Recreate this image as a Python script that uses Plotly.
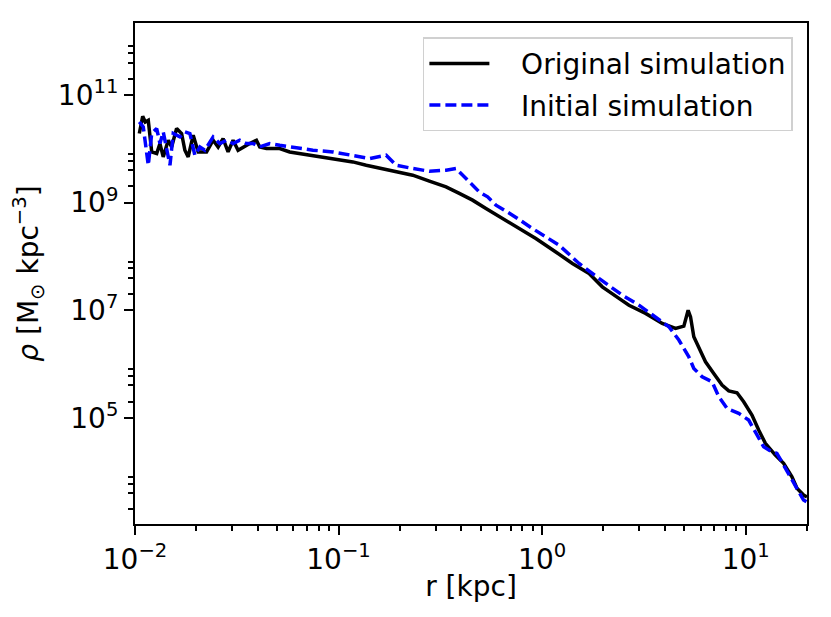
import plotly.graph_objects as go

# radius [kpc] and density [Msun kpc^-3]
r_orig = [0.01050, 0.01091, 0.01123, 0.01162, 0.01208, 0.01278, 0.01326, 0.01376, 0.01456, 0.01513,
          0.01601, 0.01694, 0.01758, 0.01825, 0.01932, 0.02044, 0.02246, 0.02420, 0.02560, 0.02708,
          0.02866, 0.03033, 0.03209, 0.03395, 0.03662, 0.03950, 0.04100, 0.04423, 0.05139, 0.05752,
          0.06437, 0.07482, 0.08375, 0.09375, 0.1175, 0.1367, 0.1649, 0.1991, 0.2313, 0.2793,
          0.3373, 0.3917, 0.4550, 0.5296, 0.6383, 0.7704, 0.9311, 1.167, 1.408, 1.700,
          1.975, 2.384, 2.670, 3.223, 3.890, 4.522, 4.966, 5.214, 5.357, 5.559,
          5.998, 6.346, 6.966, 7.651, 8.254, 9.060, 9.772, 10.73, 11.58, 12.49,
          13.98, 15.35, 16.87, 17.85, 19.23, 20.0]
rho_orig = [1.92e10, 4.02e10, 3.15e10, 3.39e10, 8.74e9, 8.16e9, 1.25e10, 7.06e9, 1.44e10, 1.08e10,
            2.38e10, 1.92e10, 9.40e9, 7.06e9, 1.79e10, 8.74e9, 8.74e9, 1.44e10, 1.08e10, 1.55e10,
            8.74e9, 1.44e10, 9.40e9, 1.08e10, 1.25e10, 1.44e10, 1.08e10, 1.01e10, 1.01e10, 8.74e9,
            8.16e9, 7.59e9, 7.06e9, 6.59e9, 5.70e9, 4.95e9, 4.30e9, 3.72e9, 3.23e9, 2.50e9,
            1.96e9, 1.48e9, 1.11e9, 7.77e8, 5.07e8, 3.39e8, 2.15e8, 1.21e8, 7.40e7, 4.82e7,
            2.72e7, 1.66e7, 1.24e7, 8.73e6, 5.69e6, 4.59e6, 5.07e6, 1.00e7, 7.54e6, 3.21e6,
            1.69e6, 1.10e6, 6.70e5, 4.06e5, 3.18e5, 2.92e5, 1.99e5, 1.13e5, 5.94e4, 3.36e4,
            2.04e4, 1.43e4, 8.05e3, 4.91e3, 3.68e3, 3.38e3]

r_init = [0.01050, 0.01098, 0.01162, 0.01208, 0.01278, 0.01326, 0.01376, 0.01430, 0.01485, 0.01541,
          0.01662, 0.01758, 0.01861, 0.01968, 0.02083, 0.02203, 0.02420, 0.02610, 0.02814, 0.03033,
          0.03271, 0.03528, 0.03802, 0.04100, 0.04589, 0.05139, 0.05752, 0.06437, 0.07482, 0.09375,
          0.1175, 0.1419, 0.1713, 0.1919, 0.2313, 0.2793, 0.3373, 0.3776, 0.4227, 0.4909,
          0.5397, 0.5930, 0.7152, 0.8964, 1.211, 1.518, 1.901, 2.475, 2.989, 3.607,
          4.194, 4.695, 5.255, 5.559, 6.109, 6.839, 7.373, 8.094, 9.240, 10.34,
          11.16, 12.25, 13.46, 14.23, 15.35, 16.56, 17.85, 19.23, 20.0]
rho_init = [3.15e10, 2.55e10, 4.95e9, 1.92e10, 2.38e10, 1.25e10, 2.06e10, 1.08e10, 4.95e9, 1.92e10,
            1.66e10, 2.06e10, 1.92e10, 7.59e9, 1.08e10, 9.40e9, 1.66e10, 1.25e10, 1.44e10, 1.25e10,
            1.44e10, 1.25e10, 1.25e10, 1.08e10, 1.25e10, 1.16e10, 1.08e10, 1.01e10, 9.40e9, 8.74e9,
            7.59e9, 6.59e9, 7.59e9, 4.95e9, 4.30e9, 3.83e9, 4.00e9, 4.30e9, 2.80e9, 1.58e9,
            1.28e9, 8.95e8, 5.84e8, 3.30e8, 1.62e8, 7.40e7, 3.90e7, 1.91e7, 1.24e7, 7.54e6,
            4.92e6, 2.79e6, 1.36e6, 8.30e5, 5.80e5, 4.68e5, 2.47e5, 1.50e5, 1.21e5, 9.10e4,
            5.52e4, 2.90e4, 2.34e4, 2.19e4, 1.33e4, 8.05e3, 4.56e3, 2.97e3, 2.73e3]

x_ticks = [0.01, 0.1, 1, 10]
x_ticktext = ['10<sup>−2</sup>', '10<sup>−1</sup>', '10<sup>0</sup>', '10<sup>1</sup>']
y_ticks = [1e5, 1e7, 1e9, 1e11]
y_ticktext = ['10<sup>5</sup>', '10<sup>7</sup>', '10<sup>9</sup>', '10<sup>11</sup>']

x_minor = [m * 10.0 ** k for k in (-2, -1, 0) for m in range(2, 10)] + [20.0]
y_minor = [m * 10.0 ** k for k in (3, 5, 7, 9, 11) for m in (2, 4, 6, 8)]

FONT = 'DejaVu Sans'
FS = 28
NB = '\u00a0'

fig = go.Figure()
fig.add_trace(go.Scatter(x=r_orig, y=rho_orig, mode='lines', name=NB * 3 + 'Original simulation',
                         legendgroup='a', line=dict(color='black', width=3.5)))
fig.add_trace(go.Scatter(x=r_init, y=rho_init, mode='lines', name=NB * 3 + 'Initial simulation',
                         legendgroup='b', line=dict(color='#0000ff', width=3.5, dash='11px,5px')))

axis_common = dict(
    type='log', showgrid=False, zeroline=False,
    showline=True, linecolor='black', linewidth=2, mirror=True,
    ticks='outside', ticklen=9, tickwidth=2, tickcolor='black',
    tickfont=dict(family=FONT, size=FS, color='black'),
    automargin=False,
)

fig.update_xaxes(axis_common, range=[-2, 1.30103], tickvals=x_ticks, ticktext=x_ticktext,
                 minor=dict(tickvals=x_minor, ticks='outside', ticklen=5, tickwidth=1.5, tickcolor='black'),
                 title=dict(text='r [kpc]', font=dict(family=FONT, size=FS, color='black'), standoff=2))
fig.update_yaxes(axis_common, range=[3.028, 12.337], tickvals=y_ticks, ticktext=y_ticktext,
                 minor=dict(tickvals=y_minor, ticks='outside', ticklen=5, tickwidth=1.5, tickcolor='black'),
                 title=dict(text='<i>ρ</i> [M<sub>⊙</sub> kpc<sup>−3</sup>]',
                            font=dict(family=FONT, size=FS, color='black'), standoff=12))

# page body adds an 8px offset, so margins are shifted to land the axes where the reference has them
fig.update_layout(
    width=831, height=617,
    margin=dict(l=127, r=32, t=15, b=101),
    plot_bgcolor='white', paper_bgcolor='white',
    font=dict(family=FONT, size=FS, color='black'),
    legend=dict(x=0.979, y=0.9715, xanchor='right', yanchor='top',
                bgcolor='white', bordercolor='#d0d0d0', borderwidth=1.5,
                tracegroupgap=2,
                font=dict(family=FONT, size=FS, color='black'), itemwidth=60),
)

fig.write_html('out.html')
